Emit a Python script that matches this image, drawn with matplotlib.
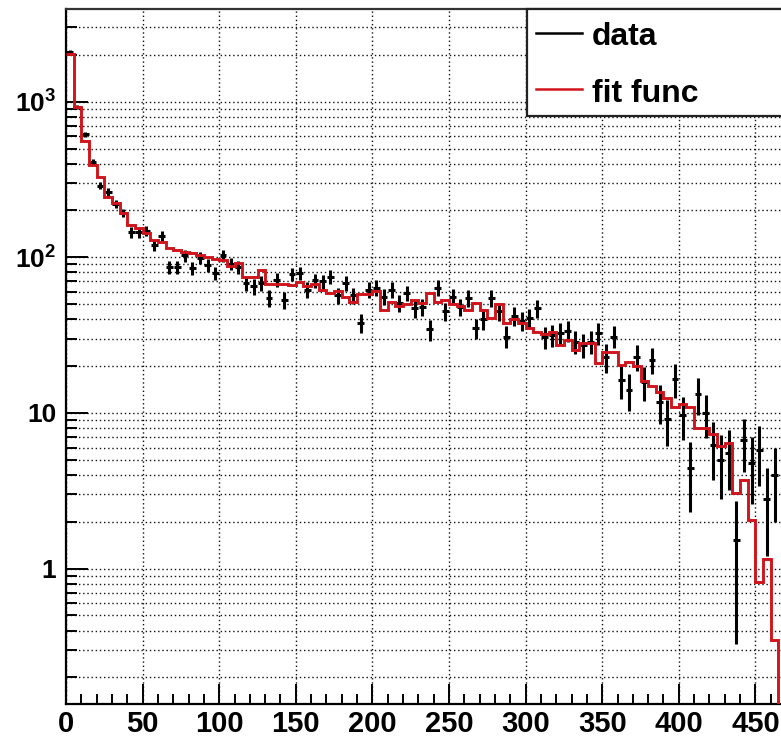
import numpy as np
import matplotlib
matplotlib.use("Agg")
import matplotlib.pyplot as plt
from matplotlib.ticker import MultipleLocator, FixedLocator, FixedFormatter, LogLocator, NullFormatter
from matplotlib.patches import Rectangle
from matplotlib.lines import Line2D

plt.rcParams['font.family'] = ['Liberation Sans', 'DejaVu Sans']
plt.rcParams['font.weight'] = 'bold'
plt.rcParams['mathtext.fontset'] = 'custom'
plt.rcParams['mathtext.rm'] = 'Liberation Sans:bold'
plt.rcParams['mathtext.it'] = 'Liberation Sans:bold'
plt.rcParams['mathtext.bf'] = 'Liberation Sans:bold'

# ---- data ----
bin_width = 5.0
data_vals = [2100, 920, 617, 411, 288, 264, 219, 193, 145, 145,
             148, 120, 137, 87, 87, 103, 85, 99, 89, 79,
             103, 91, 87, 68, 65, 68, 55, 72, 53, 78,
             79, 62, 71, 70, 75, 57, 68, 57, 38, 62,
             64, 56, 62, 51, 59, 47, 48, 34.5, 64, 45,
             56, 48, 55, 35, 40, 55, 45, 31, 42, 39,
             41, 47, 30.6, 31.7, 32.5, 33.8, 28.7, 27.4, 28.7, 32.5,
             23, 31, 16.3, 14, 23, 15.9, 22, 11.8, 9.1, 16.5,
             9.7, 4.4, 13.2, 10, 6.2, 5.0, 5.5, 1.53, 6.7, 4.8,
             5.8, 2.8, 4.0]
data_errs = [41, 27, 22, 18, 15, 15, 13, 12.5, 11, 11,
             11, 10, 10.5, 8.4, 8.4, 9, 8.3, 9, 8.5, 8,
             9, 8.6, 8.4, 7.4, 7.3, 7.4, 6.7, 7.6, 6.6, 7.9,
             8, 7.1, 7.6, 7.5, 7.8, 6.8, 7.4, 6.8, 5.5, 7.1,
             7.2, 6.7, 7.1, 6.4, 6.9, 6.2, 6.2, 5.3, 7.2, 6,
             6.7, 6.2, 6.7, 5.3, 5.7, 6.7, 6, 5, 5.8, 5.6,
             5.8, 6, 5, 5.1, 5.1, 5.2, 4.8, 4.7, 4.8, 5.1,
             4.8, 5, 4, 3.7, 4.3, 3.9, 4.2, 3.3, 3, 4,
             3, 2.1, 3.5, 3.1, 2.5, 2.2, 2.3, 1.2, 2.5, 2.2,
             2.4, 1.6, 2]
fit_vals = [2040, 927, 561, 392, 329, 245, 222, 192, 161, 154,
            143, 129, 126, 114, 112, 109, 106, 103, 101, 98,
            96, 88, 92, 75, 75, 83, 67, 67, 67, 66,
            69, 65, 67, 62, 59, 61, 56, 52, 58, 58,
            61, 46, 52, 49, 50, 53, 51, 59, 52, 53,
            50, 49, 46, 51, 46, 41, 50, 37.7, 40, 37.7,
            35, 33, 32, 33, 27.3, 29.4, 25.4, 28, 28, 20.8,
            24.8, 24.8, 20.3, 21.4, 20, 16, 14.8, 13.7, 12.4, 11,
            11.5, 11, 8.0, 8.0, 7.3, 6.1, 6.4, 3.05, 3.7, 2.05,
            0.826, 1.15, 0.348, 0.05]

y_major = [1, 10, 100, 1000]
y_labels = ['1', '10', '$10^{2}$', '$10^{3}$']
legend_labels = ['data', 'fit func']

data_x = np.arange(len(data_vals)) * bin_width + bin_width / 2
fit_edges = np.arange(len(fit_vals) + 1) * bin_width

RED = '#d0141c'

fig = plt.figure(figsize=(7.81, 7.39), dpi=100)
W, H = 781, 739
ax = fig.add_axes([66 / W, (H - 704) / H, (W - 66) / W, (704 - 8.5) / H])
ax.set_yscale('log')
ax.set_xlim(0, 466.7)
ax.set_ylim(0.135, 3970)

# grid
ax.grid(True, which='both', axis='y', linestyle=(0, (1, 2)), color='#111111', linewidth=1.0, zorder=0)
ax.grid(True, which='major', axis='x', linestyle=(0, (1, 2)), color='#111111', linewidth=1.0, zorder=0)
ax.set_axisbelow(True)

# data with errors
ax.errorbar(data_x, data_vals, yerr=data_errs, xerr=bin_width / 2 * 0.9, fmt='none',
            ecolor='black', elinewidth=2.2, capsize=0, zorder=3)
# fit function as histogram steps
ax.stairs(fit_vals, fit_edges, baseline=None, color=RED, linewidth=2.1, zorder=4)

# ticks
ax.xaxis.set_major_locator(MultipleLocator(50))
ax.xaxis.set_minor_locator(MultipleLocator(10))
ax.yaxis.set_major_locator(FixedLocator(y_major))
ax.yaxis.set_major_formatter(FixedFormatter(y_labels))
ax.yaxis.set_minor_locator(LogLocator(base=10, subs=np.arange(2, 10), numticks=30))
ax.yaxis.set_minor_formatter(NullFormatter())
ax.tick_params(axis='y', which='major', direction='in', length=16, width=1.4, labelsize=19, pad=7,
               right=False, left=True)
ax.tick_params(axis='y', which='minor', direction='in', length=8, width=1.4, right=False, left=True)
ax.tick_params(axis='x', which='major', direction='in', length=14.5, width=1.4, labelsize=21, pad=4,
               top=False)
ax.tick_params(axis='x', which='minor', direction='in', length=7, width=1.4, top=False)
for lab in ax.get_xticklabels() + ax.get_yticklabels():
    lab.set_fontweight('bold')

for s in ['left', 'bottom']:
    ax.spines[s].set_linewidth(1.6)
    ax.spines[s].set_color('black')
ax.spines['top'].set_linewidth(1.6)
ax.spines['top'].set_color('#333333')
ax.spines['right'].set_visible(False)

# legend (manual, ROOT style)
lx0 = (527 - 66) / 715
ly0 = (704 - 115.7) / 695.5
box = Rectangle((lx0, ly0), 1.2 - lx0, 1.0 - ly0, transform=ax.transAxes, facecolor='white',
                edgecolor='#222222', linewidth=1.6, zorder=10, clip_on=False)
ax.add_patch(box)
lcolors = ['black', RED]
lbase = [(704 - 45) / 695.5, (704 - 101.7) / 695.5]
lmid = [(704 - 33.3) / 695.5, (704 - 88.5) / 695.5]
for lab, c, yb, ym in zip(legend_labels, lcolors, lbase, lmid):
    ax.add_line(Line2D([(536 - 66) / 715, (582 - 66) / 715], [ym, ym], transform=ax.transAxes,
                       color=c, linewidth=1.8, zorder=11, clip_on=False))
    ax.text((592 - 66) / 715, yb, lab, transform=ax.transAxes, fontsize=23, fontweight='bold',
            va='baseline', ha='left', zorder=11)

fig.savefig('out.png', dpi=100)
